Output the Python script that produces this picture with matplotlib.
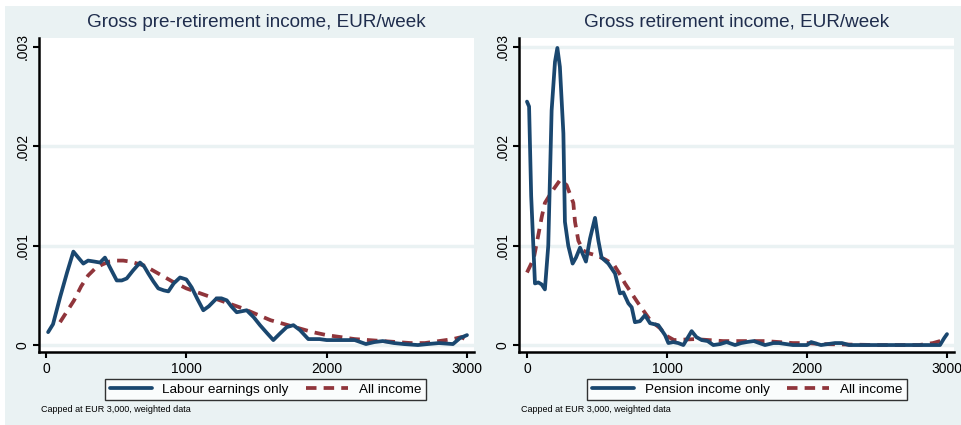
import matplotlib
matplotlib.use("Agg")
import matplotlib.pyplot as plt
from matplotlib.patches import Rectangle

plt.rcParams["font.family"] = ["Liberation Sans", "DejaVu Sans"]

# Left panel: gross pre-retirement income (density)
lab_x = [15, 50, 100, 150, 195, 230, 266, 300, 345, 385, 420, 456, 504, 540, 575,
         620, 670, 700, 729, 765, 800, 840, 872, 910, 955, 1000, 1038, 1080, 1121,
         1160, 1216, 1250, 1288, 1320, 1359, 1395, 1430, 1480, 1525, 1575, 1620,
         1670, 1715, 1763, 1810, 1869, 1950, 2000, 2100, 2200, 2280, 2340, 2400,
         2480, 2550, 2650, 2720, 2800, 2900, 2950, 3000]
lab_y = [0.00013, 0.00021, 0.00048, 0.00073, 0.00094, 0.00088, 0.00082, 0.00085,
         0.00084, 0.00083, 0.00088, 0.00078, 0.00065, 0.00065, 0.00067, 0.00075,
         0.00083, 0.00079, 0.00072, 0.00064, 0.00057, 0.00055, 0.00054, 0.00062,
         0.00068, 0.00066, 0.00058, 0.00046, 0.00035, 0.00039, 0.00047, 0.00047,
         0.00045, 0.00039, 0.00033, 0.00034, 0.00035, 0.00028, 0.00020, 0.00012,
         0.00005, 0.00012, 0.00018, 0.00020, 0.00015, 0.00006, 0.00006, 0.00005,
         0.00005, 0.00005, 0.00001, 0.00003, 0.00004, 0.00002, 0.00001, 0.00000,
         0.00001, 0.00002, 0.00001, 0.00007, 0.00010]

all1_x = [100, 150, 200, 250, 300, 350, 400, 450, 500, 550, 600, 650, 700, 800,
          900, 1000, 1100, 1200, 1300, 1400, 1500, 1600, 1700, 1800, 1900, 2000,
          2200, 2400, 2600, 2700, 2800, 2900, 2960, 3000]
all1_y = [0.00023, 0.00034, 0.00045, 0.00059, 0.00070, 0.00077, 0.00081, 0.00084,
          0.00085, 0.00085, 0.00084, 0.00082, 0.00080, 0.00072, 0.00064, 0.00057,
          0.00052, 0.00047, 0.00042, 0.00037, 0.00031, 0.00025, 0.00021, 0.00017,
          0.00013, 0.00010, 0.00006, 0.00004, 0.00002, 0.00002, 0.00004, 0.00006,
          0.00008, 0.00005]

# Right panel: gross retirement income (density)
pen_x = [0, 15, 30, 57, 81, 105, 128, 152, 176, 200, 217, 235, 260, 271, 295, 326,
         350, 379, 421, 450, 486, 510, 533, 581, 629, 664, 688, 724, 748, 771, 807,
         843, 879, 938, 986, 1010, 1045, 1080, 1117, 1176, 1210, 1248, 1290, 1331,
         1380, 1426, 1486, 1530, 1569, 1620, 1700, 1760, 1800, 1900, 2000, 2030,
         2100, 2200, 2250, 2300, 2500, 2700, 2900, 2950, 2980, 3000]
pen_y = [0.00245, 0.00240, 0.00150, 0.00062, 0.00063, 0.00061, 0.00056, 0.00100,
         0.00236, 0.00285, 0.00299, 0.00280, 0.00213, 0.00124, 0.00100, 0.00082,
         0.00088, 0.00098, 0.00084, 0.00107, 0.00128, 0.00105, 0.00088, 0.00082,
         0.00072, 0.00052, 0.00053, 0.00042, 0.00038, 0.00023, 0.00024, 0.00030,
         0.00022, 0.00020, 0.00010, 0.00002, 0.00003, 0.00002, 0.00000, 0.00014,
         0.00008, 0.00005, 0.00004, 0.00000, 0.00001, 0.00003, 0.00000, 0.00002,
         0.00003, 0.00004, 0.00000, 0.00002, 0.00002, 0.00000, 0.00000, 0.00003,
         0.00000, 0.00002, 0.00002, 0.00000, 0.00000, 0.00000, 0.00000, 0.00000,
         0.00007, 0.00011]

all2_x = [0, 48, 80, 107, 128, 176, 236, 283, 331, 343, 367, 402, 450, 500, 560,
          620, 660, 700, 790, 880, 950, 1000, 1050, 1200, 1400, 1600, 1700, 1900,
          2000, 2100, 2500, 2800, 2900, 3000]
all2_y = [0.00073, 0.00087, 0.00110, 0.00130, 0.00143, 0.00154, 0.00166, 0.00161,
          0.00143, 0.00124, 0.00105, 0.00095, 0.00092, 0.00090, 0.00086, 0.00081,
          0.00072, 0.00062, 0.00043, 0.00025, 0.00017, 0.00009, 0.00005, 0.00006,
          0.00004, 0.00004, 0.00004, 0.00002, 0.00002, 0.00001, 0.00000, 0.00000,
          0.00002, 0.00006]

titles = ["Gross pre-retirement income, EUR/week", "Gross retirement income, EUR/week"]
labels = ["Labour earnings only", "Pension income only"]
note = "Capped at EUR 3,000, weighted data"

bg = "#EAF2F3"
navy = "#1A476F"
maroon = "#90353B"
W, H = 962, 425

fig = plt.figure(figsize=(W / 100, H / 100), dpi=100, facecolor="white")
fig.patches.append(Rectangle((5 / W, 0), 1, 1 - 6 / H, transform=fig.transFigure,
                             facecolor=bg, edgecolor="none", zorder=-10))

panels = [(39, lab_x, lab_y, all1_x, all1_y, [0, 0.001, 0.002], (-50, 3050)),
          (519, pen_x, pen_y, all2_x, all2_y, [0, 0.001, 0.002, 0.003], (-57, 3050))]

for i, (left, bx, by, rx, ry, grid, xlim) in enumerate(panels):
    ax = fig.add_axes([left / W, (H - 352) / H, 435 / W, 314 / H])
    ax.set_facecolor("white")
    for g in grid:
        ax.axhline(g, color=bg, lw=2.5, zorder=1)
    l1, = ax.plot(bx, by, color=navy, lw=2.7, solid_joinstyle="round",
                  solid_capstyle="round", zorder=3, label=labels[i])
    l2, = ax.plot(rx, ry, color=maroon, lw=2.7, ls=(0, (2.8, 1.9)), zorder=2,
                  label="All income")
    ax.set_xlim(*xlim)
    ax.set_ylim(-0.00007, 0.00309)
    ax.set_xticks([0, 1000, 2000, 3000])
    ax.set_yticks([0, 0.001, 0.002, 0.003])
    ax.set_yticklabels(["0", ".001", ".002", ".003"], rotation=90, va="center")
    ax.tick_params(labelsize=10, length=4, width=1.5, color="black", pad=3)
    for s in ["top", "right"]:
        ax.spines[s].set_visible(False)
    for s in ["left", "bottom"]:
        ax.spines[s].set_linewidth(1.8)
    ax.set_title(titles[i], fontsize=13.6, color="#1F2D4D", pad=8)
    cx = (265.5 if i == 0 else 747) / W
    leg = ax.legend(handles=[l1, l2], loc="center", bbox_to_anchor=(cx, 1 - 389.5 / H),
                    bbox_transform=fig.transFigure, ncol=2, fontsize=9.7,
                    frameon=True, fancybox=False, edgecolor="black",
                    handlelength=3.1, columnspacing=1.3, borderpad=0.35,
                    handletextpad=0.8)
    leg.get_frame().set_linewidth(1.0)
    fig.text((left + 2) / W, 1 - 410 / H, note, fontsize=6.5, va="center", ha="left")

fig.savefig("out.png", dpi=100, facecolor=fig.get_facecolor())
